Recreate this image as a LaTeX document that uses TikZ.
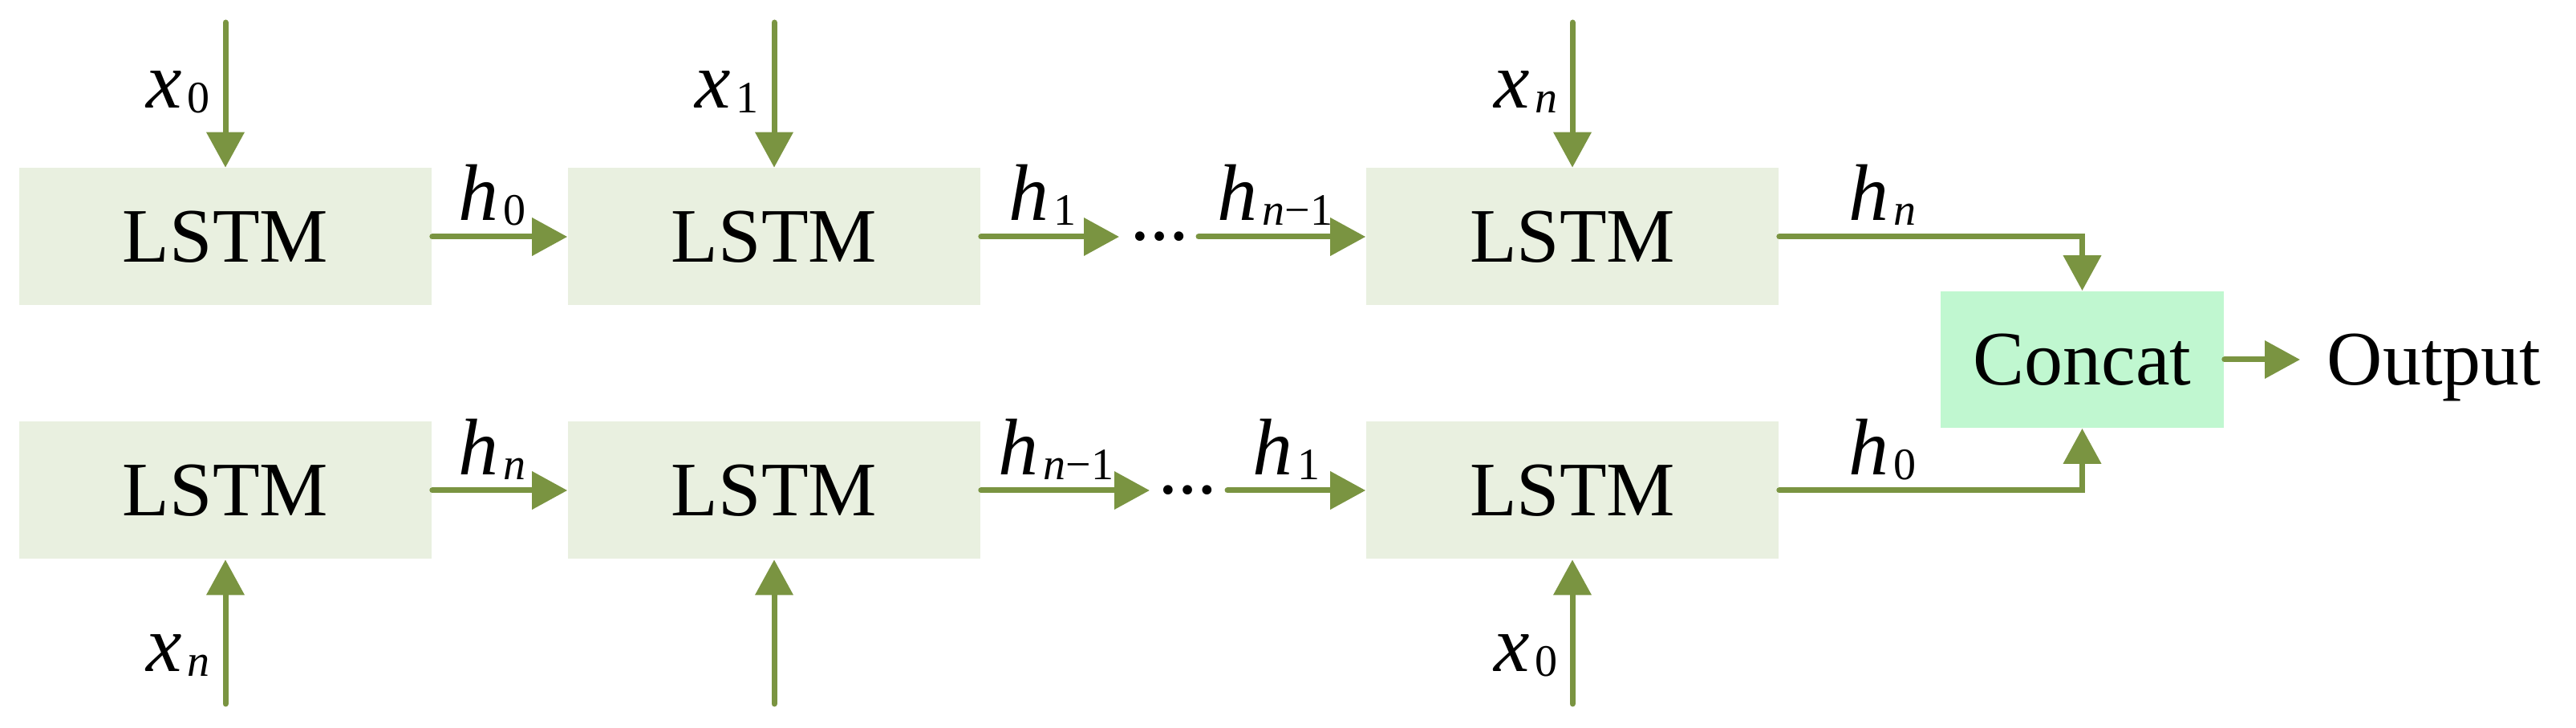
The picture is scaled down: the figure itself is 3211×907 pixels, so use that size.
\documentclass[tikz,border=0pt]{standalone}
\usepackage{fontspec}
\setmainfont{Liberation Serif}
\usetikzlibrary{arrows.meta}
\definecolor{boxfill}{RGB}{233,240,224}
\definecolor{catfill}{RGB}{192,247,208}
\definecolor{arr}{RGB}{122,148,65}
\newcommand\lvar[2]{\textit{#1}\kern1.5pt\raisebox{-1.3pt}{\fontsize{14}{14}\selectfont #2}}
\begin{document}
\begin{tikzpicture}[x=0.25pt, y=-0.25pt,
  lstm/.style={fill=boxfill, minimum width=128.5pt, minimum height=42.75pt, inner sep=0pt, font=\fontsize{24}{28}\selectfont},
  catbox/.style={fill=catfill, minimum width=88.25pt, minimum height=42.5pt, inner sep=0pt, font=\fontsize{24}{28}\selectfont},
  conn/.style={draw=arr, line width=1.75pt, line cap=round, -{Triangle[length=11pt,width=11.5pt]}},
  lab/.style={inner sep=0pt, font=\fontsize{25}{28}\selectfont},
  dots/.style={inner sep=0pt, font=\fontsize{18}{20}\selectfont\bfseries, anchor=base}]
\useasboundingbox (0,0) rectangle (3211,907);

% boxes
\node[lstm] (t1) at (281,295) {LSTM};
\node[lstm] (t2) at (965,295) {LSTM};
\node[lstm] (t3) at (1960,295) {LSTM};
\node[lstm] (b1) at (281,611) {LSTM};
\node[lstm] (b2) at (965,611) {LSTM};
\node[lstm] (b3) at (1960,611) {LSTM};
\node[catbox] (cc) at (2595.5,448) {Concat};
\node[inner sep=0pt, font=\fontsize{24}{28}\selectfont, anchor=base west] (out) at (2900,480) {Output};

% input coordinates
\coordinate (xt1) at (281,28);
\coordinate (xt2) at (965,28);
\coordinate (xt3) at (1960,28);
\coordinate (xb1) at (281,877);
\coordinate (xb2) at (965,877);
\coordinate (xb3) at (1960,877);

% input arrows
\draw[conn] (xt1) -- (t1.north);
\draw[conn] (xt2) -- (t2.north);
\draw[conn] (xt3) -- (t3.north);
\draw[conn] (xb1) -- (b1.south);
\draw[conn] (xb2) -- (b2.south);
\draw[conn] (xb3) -- (b3.south);

% input labels
\node[lab, anchor=base east] (lxt1) at (262,135) {\lvar{x}{0}};
\node[lab, anchor=base east] (lxt2) at (946,135) {\lvar{x}{1}};
\node[lab, anchor=base east] (lxt3) at (1942,135) {\lvar{x}{\textit{n}}};
\node[lab, anchor=base east] (lxb1) at (262,837) {\lvar{x}{\textit{n}}};
\node[lab, anchor=base east] (lxb3) at (1942,837) {\lvar{x}{0}};

% ellipses
\node[dots] (dt) at (1445,300) {…};
\node[dots] (db) at (1480,616) {…};
\coordinate (dtin) at (1395,295);
\coordinate (dtout) at (1494,295);
\coordinate (dbin) at (1433,611);
\coordinate (dbout) at (1530,611);

% forward row
\draw[conn] (t1.east) -- (t2.west);
\draw[conn] (t2.east) -- (dtin);
\draw[conn] (dtout) -- (t3.west);
\draw[conn] (t3.east) -| (cc.north);

% backward row
\draw[conn] (b1.east) -- (b2.west);
\draw[conn] (b2.east) -- (dbin);
\draw[conn] (dbout) -- (b3.west);
\draw[conn] (b3.east) -| (cc.south);

% output
\coordinate (otip) at (2867,448);
\draw[conn] (cc.east) -- (otip);

% hidden-state labels
\node[lab, anchor=base west] (lht1) at (571,275) {\lvar{h}{0}};
\node[lab, anchor=base west] (lht2) at (1257,275) {\lvar{h}{1}};
\node[lab, anchor=base west] (lht3) at (1517,275) {\lvar{h}{\textit{n}−1}};
\node[lab, anchor=base west] (lht4) at (2304,275) {\lvar{h}{\textit{n}}};
\node[lab, anchor=base west] (lhb1) at (571,592) {\lvar{h}{\textit{n}}};
\node[lab, anchor=base west] (lhb2) at (1244,592) {\lvar{h}{\textit{n}−1}};
\node[lab, anchor=base west] (lhb3) at (1561,592) {\lvar{h}{1}};
\node[lab, anchor=base west] (lhb4) at (2304,592) {\lvar{h}{0}};
\end{tikzpicture}
\end{document}
